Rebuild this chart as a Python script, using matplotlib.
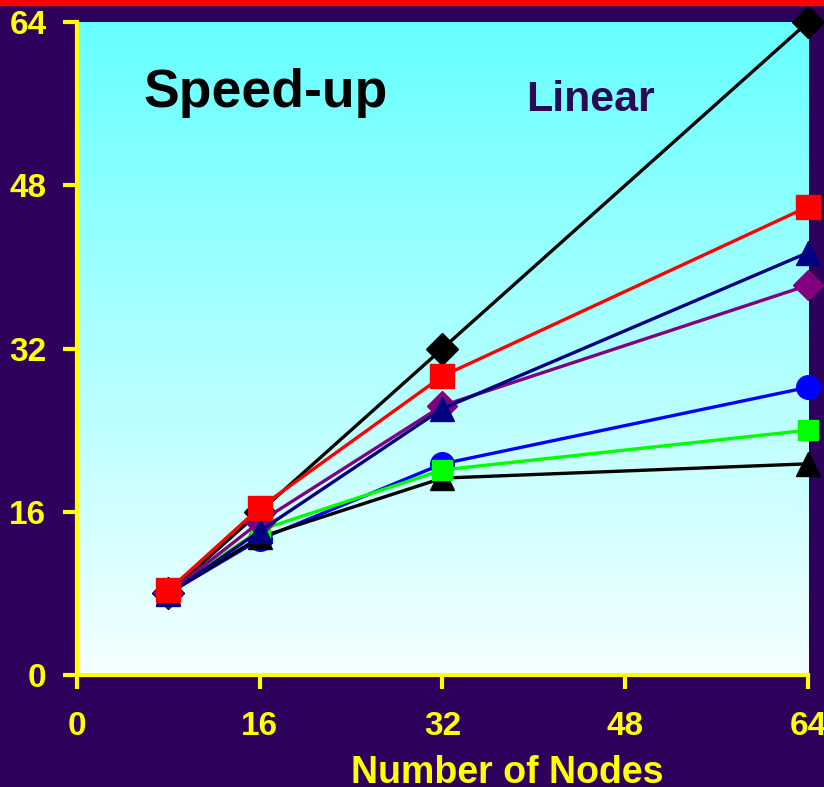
import numpy as np
import matplotlib.pyplot as plt
from matplotlib.patches import Rectangle

# data
nodes = [8, 16, 32, 64]
linear = [8, 16, 32, 64]
red_sq = [8.3, 16.4, 29.3, 45.9]
navy_tri = [7.9, 14.1, 26.1, 41.4]
purple_dia = [8.0, 15.0, 26.4, 38.2]
blue_circ = [8.0, 13.3, 20.7, 28.2]
green_sq = [8.1, 14.2, 20.1, 24.0]
black_tri = [8.0, 13.5, 19.3, 20.7]
ticks = [0, 16, 32, 48, 64]

bg = '#2d005c'
yellow = '#ffff00'
narrow = ['Liberation Sans Narrow', 'Liberation Sans', 'DejaVu Sans']
bold = ['Liberation Sans', 'DejaVu Sans']

fig = plt.figure(figsize=(8.24, 7.87), dpi=100, facecolor=bg)
ax = fig.add_axes([0.0934, 0.1423, 0.8872, 0.8297])
ax.set_facecolor('white')

# cyan -> white gradient background
grad = np.linspace(0, 1, 256).reshape(-1, 1)
top = np.array([102, 255, 255]) / 255
bot = np.array([245, 255, 255]) / 255
img = top * (1 - grad[..., None]) + bot * grad[..., None]
ax.imshow(img, extent=[0, 64, 0, 64], aspect='auto', origin='upper', zorder=0)

ms = 17
lw = 2.4
series = [
    (linear, 'black', 'D', 16),
    (blue_circ, '#0000ff', 'o', ms),
    (black_tri, 'black', '^', ms),
    (green_sq, '#00ff00', 's', 15),
    (purple_dia, '#800080', 'D', 15),
    (navy_tri, '#000080', '^', ms),
    (red_sq, '#ff0000', 's', ms),
]
for i, (vals, c, m, s) in enumerate(series):
    ax.plot(nodes, vals, color=c, marker=m, markersize=s, linewidth=lw,
            clip_on=False, zorder=3 + i)

ax.set_xlim(0, 64)
ax.set_ylim(0, 64)
ax.set_xticks(ticks)
ax.set_yticks(ticks)
for sp in ['top', 'right']:
    ax.spines[sp].set_visible(False)
for sp in ['left', 'bottom']:
    ax.spines[sp].set_color(yellow)
    ax.spines[sp].set_linewidth(3)
ax.tick_params(colors=yellow, width=3, length=10, direction='out')
ax.tick_params(axis='x', pad=16)
ax.tick_params(axis='y', pad=12)
for lab in ax.get_xticklabels() + ax.get_yticklabels():
    lab.set_family(narrow)
    lab.set_fontweight('bold')
    lab.set_fontsize(24)
    lab.set_color(yellow)

ax.set_xlabel('Number of Nodes', color=yellow, fontsize=27, fontweight='bold',
              family=narrow)
ax.xaxis.set_label_coords(0.589, -0.122)

ax.text(16.5, 57.0, 'Speed-up', fontsize=38.5, fontweight='bold', family=bold,
        color='black', ha='center', va='center', zorder=20)
ax.text(45.0, 56.4, 'Linear', fontsize=31, fontweight='bold', family=bold,
        color='#2a0a55', ha='center', va='center', zorder=20)

# red strip along the top edge
fig.patches.append(Rectangle((0, 0.994), 1, 0.006, transform=fig.transFigure,
                             color='#ff0000', zorder=0))

fig.savefig('out.png', dpi=100, facecolor=bg)
